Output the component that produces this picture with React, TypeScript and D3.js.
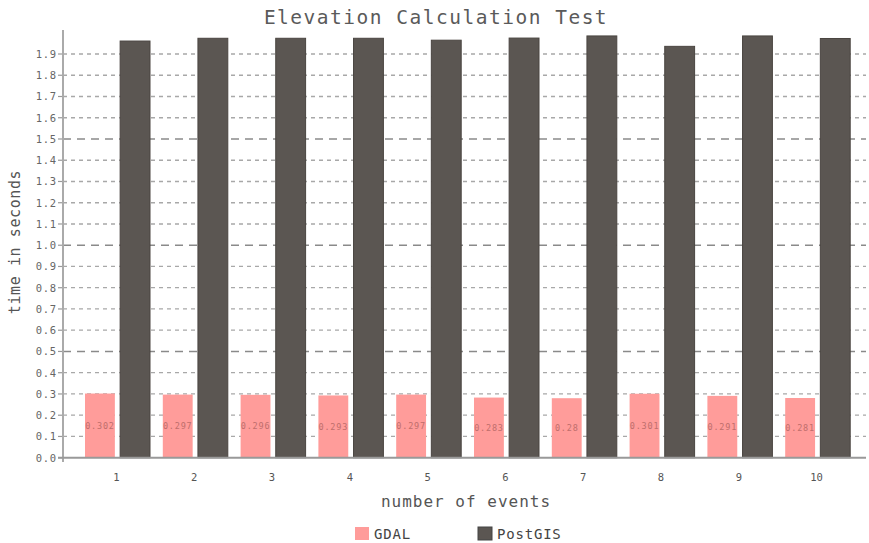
import React from "react";
import * as d3 from "d3";

const categories = ["1", "2", "3", "4", "5", "6", "7", "8", "9", "10"];
const seriesNames = ["GDAL", "PostGIS"];
const gdalValues = [0.302, 0.297, 0.296, 0.293, 0.297, 0.283, 0.28, 0.301, 0.291, 0.281];
const gdalLabels = ["0.302", "0.297", "0.296", "0.293", "0.297", "0.283", "0.28", "0.301", "0.291", "0.281"];
const postgisValues = [1.961, 1.974, 1.974, 1.974, 1.965, 1.975, 1.985, 1.936, 1.985, 1.973];
const yTicks = d3.range(0, 20).map((i) => i / 10);
const title = "Elevation Calculation Test";
const xTitle = "number of events";
const yTitle = "time in seconds";

const W = 869;
const H = 543;
const colors: Record<string, string> = { GDAL: "#ff9c9a", PostGIS: "#5b5652" };
const MONO = "'DejaVu Sans Mono', monospace";

if (typeof document !== "undefined") document.body.style.margin = "0";

export default function App() {
  const y = d3.scaleLinear().domain([0, 1.9]).range([457.7, 54]);
  const x = d3.scaleBand<string>().domain(categories).range([79, 857]).padding(0);
  const xi = d3.scaleBand<string>().domain(seriesNames).range([6, 71]).paddingInner(0.15);
  const axisX = 63;
  const rightX = 866;

  return (
    <svg width={W} height={H} style={{ display: "block", background: "#fff" }}>
      <text x={436} y={24} textAnchor="middle" fontFamily={MONO} fontSize={19.5} letterSpacing={1.5} fill="#5a5a5a">
        {title}
      </text>

      {yTicks.map((t, i) => {
        const major = i > 0 && i % 5 === 0;
        return (
          <g key={i}>
            {i > 0 && (
              <line
                x1={axisX}
                x2={rightX}
                y1={y(t)}
                y2={y(t)}
                stroke={major ? "#8a8a8a" : "#a8a8a8"}
                strokeWidth={major ? 1.6 : 1.3}
                strokeDasharray={major ? "8 6" : "4 4"}
              />
            )}
            <line x1={axisX - 5} x2={axisX} y1={y(t)} y2={y(t)} stroke="#999" strokeWidth={1.2} />
            <text x={57} y={y(t) + 4} textAnchor="end" fontFamily={MONO} fontSize={10.5} letterSpacing={0.8} fill="#666">
              {t.toFixed(1)}
            </text>
          </g>
        );
      })}

      {categories.map((c, i) => {
        const gx = x(c)!;
        const gdalH = y(0) - y(gdalValues[i]);
        return (
          <g key={c}>
            <rect
              x={gx + xi("GDAL")!}
              y={y(gdalValues[i])}
              width={xi.bandwidth()}
              height={gdalH}
              fill={colors.GDAL}
            />
            <rect
              x={gx + xi("PostGIS")!}
              y={y(postgisValues[i])}
              width={xi.bandwidth()}
              height={y(0) - y(postgisValues[i])}
              fill={colors.PostGIS}
              stroke="#4a4541"
              strokeWidth={1}
            />
            <text
              x={gx + xi("GDAL")! + xi.bandwidth() / 2}
              y={y(gdalValues[i] / 2) + 3}
              textAnchor="middle"
              fontFamily={MONO}
              fontSize={8.5}
              letterSpacing={0.8}
              fill="#c06e6c"
            >
              {gdalLabels[i]}
            </text>
            <text
              x={gx + x.bandwidth() / 2 - 1.5}
              y={481}
              textAnchor="middle"
              fontFamily={MONO}
              fontSize={10.5}
              fill="#555"
            >
              {c}
            </text>
          </g>
        );
      })}

      <line x1={axisX} x2={axisX} y1={30} y2={462} stroke="#aaa" strokeWidth={2} />
      <line x1={axisX - 5} x2={rightX} y1={y(0)} y2={y(0)} stroke="#999" strokeWidth={2} />

      <text x={466} y={507} textAnchor="middle" fontFamily={MONO} fontSize={16} letterSpacing={1} fill="#555">
        {xTitle}
      </text>
      <text
        transform={`translate(20, 242) rotate(-90)`}
        textAnchor="middle"
        fontFamily={MONO}
        fontSize={15}
        letterSpacing={0.6}
        fill="#555"
      >
        {yTitle}
      </text>

      {seriesNames.map((s, i) => {
        const lx = i === 0 ? 355 : 478;
        return (
          <g key={s}>
            <rect x={lx} y={527} width={14} height={13} fill={colors[s]} stroke={i === 1 ? "#444" : "none"} />
            <text x={lx + 19} y={539} fontFamily={MONO} fontSize={14} letterSpacing={0.8} fill="#444">
              {s}
            </text>
          </g>
        );
      })}
    </svg>
  );
}
